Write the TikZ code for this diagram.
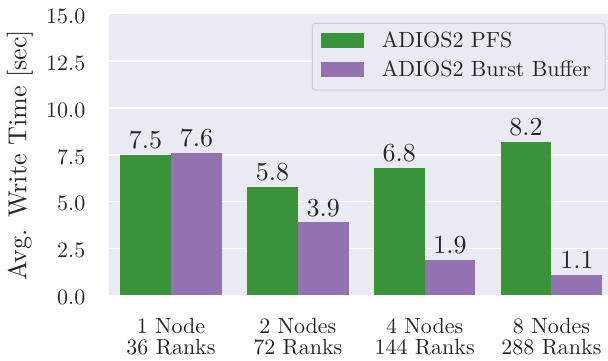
\documentclass[tikz,border=0pt]{standalone}
\usepackage{fontspec}
\setmainfont{lmroman10-regular.otf}
\definecolor{bg}{RGB}{234,234,242}
\definecolor{barg}{RGB}{58,146,58}
\definecolor{barp}{RGB}{147,114,178}
\definecolor{txt}{RGB}{38,38,38}
\definecolor{legedge}{RGB}{206,206,210}
\begin{document}
\begin{tikzpicture}[x=1pt,y=-1pt,
  small/.style={font=\fontsize{22}{26}\selectfont, text=txt, inner sep=0pt},
  big/.style={font=\fontsize{26}{30}\selectfont, text=txt, inner sep=0pt},
  gridline/.style={draw=white, line width=1.5pt},
  legbox/.style={draw=legedge, fill=bg, rounded corners=3pt, line width=1pt}]
\useasboundingbox (0,0) rectangle (608,360);
% axes background
\fill[bg] (109,14.4) rectangle (608,295.2);
% grid
\foreach \v in {2.5,5,7.5,10,12.5} {
  \draw[gridline] (109,{295.2-18.72*\v}) -- (608,{295.2-18.72*\v});
}
% y tick labels
\foreach \v/\t in {0/0.0,2.5/2.5,5/5.0,7.5/7.5,10/10.0,12.5/12.5,15/15.0} {
  \node[small,anchor=east] (yt\t) at (85.5,{295.2-18.72*\v+2}) {\t};
}
% bars, value labels, x tick labels
\foreach \i/\g/\p/\na/\nb in {0/7.5/7.6/1 Node/36 Ranks, 1/5.8/3.9/2 Nodes/72 Ranks, 2/6.8/1.9/4 Nodes/144 Ranks, 3/8.2/1.1/8 Nodes/288 Ranks} {
  \pgfmathsetmacro\c{171+126.83*\i}
  \fill[barg] ({\c-50.8},295.2) rectangle (\c,{295.2-18.72*\g});
  \fill[barp] (\c,295.2) rectangle ({\c+50.8},{295.2-18.72*\p});
  \node[big,anchor=base] (vg\i) at ({\c-25.4},{295.2-18.72*\g-6}) {\g};
  \node[big,anchor=base] (vp\i) at ({\c+25.4},{295.2-18.72*\p-6}) {\p};
  \node[small,anchor=base] (xa\i) at (\c,333.3) {\na};
  \node[small,anchor=base] (xb\i) at (\c,354.5) {\nb};
}
% y label
\node[big,rotate=90,anchor=base] (ylab) at (26.5,155) {Avg. Write Time [sec]};
% legend
\draw[legbox] (312.3,23.3) rectangle (605,90);
\fill[barg] (320.7,32.7) rectangle (364,47.7);
\fill[barp] (320.7,61.7) rectangle (364,76.7);
\node[small,anchor=base west] (l1) at (381.7,47.3) {ADIOS2 PFS};
\node[small,anchor=base west] (l2) at (381.7,76.3) {ADIOS2 Burst Buffer};
\end{tikzpicture}
\end{document}
